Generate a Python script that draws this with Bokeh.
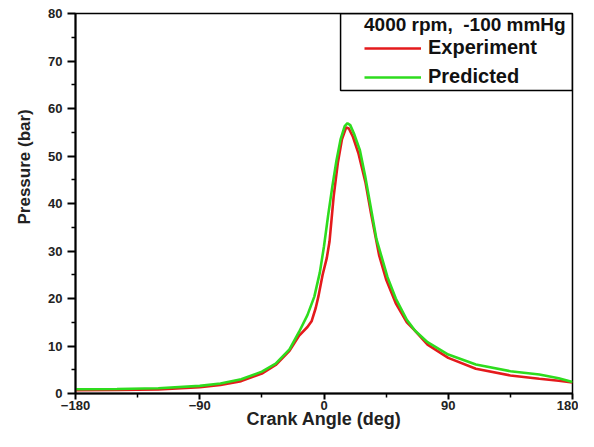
from bokeh.plotting import figure
from bokeh.models import FixedTicker, Legend, LegendItem, BoxAnnotation, Title, Range1d
from bokeh.embed import file_html
from bokeh.resources import INLINE

# Experiment (red)
angle_exp = [-180, -150, -120, -90, -75, -60, -45, -35, -25, -18, -12, -9, -6, -4, -1, 2, 4, 7, 10, 13,
             16, 18, 21, 25, 30, 34, 40, 45, 52, 60, 65, 75, 90, 110, 135, 156, 170, 180]
p_exp = [0.7, 0.75, 0.85, 1.3, 1.8, 2.6, 4.2, 6.0, 9.0, 12.2, 14.0, 15.2, 18.0, 20.5, 25.0, 28.5, 32.0,
         41.5, 48.5, 53.5, 56.0, 55.8, 54.0, 50.5, 44.5, 38.0, 29.0, 24.0, 19.0, 15.0, 13.5, 10.3, 7.5,
         5.2, 3.8, 3.1, 2.7, 2.3]

# Predicted (green)
angle_pred = [-180, -150, -120, -90, -75, -60, -45, -35, -25, -18, -12, -7, -3, 0, 3, 6, 9, 12, 15, 17,
              19, 22, 26, 30, 34, 38, 42, 46, 52, 60, 66, 75, 90, 110, 135, 156, 170, 180]
p_pred = [0.9, 0.95, 1.1, 1.6, 2.1, 3.0, 4.6, 6.3, 9.3, 13.0, 16.5, 20.4, 25.5, 31.0, 37.5, 43.5, 49.0,
          53.5, 56.3, 56.9, 56.5, 54.5, 51.2, 45.5, 39.0, 32.5, 28.5, 24.5, 20.0, 15.5, 13.2, 10.8, 8.2,
          6.1, 4.7, 4.0, 3.2, 2.4]

x_ticks = [-180, -90, 0, 90, 180]
x_minor = [-135, -45, 45, 135]
y_ticks = [0, 10, 20, 30, 40, 50, 60, 70, 80]
y_minor = [5, 15, 25, 35, 45, 55, 65, 75]

FONT = "Liberation Sans"

p = figure(width=578, height=431, output_backend="svg", toolbar_location=None,
           x_range=Range1d(-180, 180), y_range=Range1d(0, 80),
           min_border_left=73, min_border_right=6, min_border_top=13, min_border_bottom=33)

p.xgrid.visible = False
p.ygrid.visible = False
p.outline_line_color = "black"
p.outline_line_width = 1.5
p.outline_line_alpha = 1

r1 = p.line(angle_exp, p_exp, line_color="#e41a1c", line_width=2.6)
r2 = p.line(angle_pred, p_pred, line_color="#2edc1e", line_width=2.6)

for ax in (p.xaxis[0], p.yaxis[0]):
    ax.axis_line_width = 2
    ax.major_tick_line_width = 2
    ax.minor_tick_line_width = 1.5
    ax.major_tick_in = 0
    ax.minor_tick_in = 0
    ax.major_label_text_font = FONT
    ax.major_label_text_font_style = "bold"
    ax.major_label_text_font_size = "13px"
    ax.major_label_text_color = "#222222"

p.xaxis.ticker = FixedTicker(ticks=x_ticks, minor_ticks=x_minor)
p.yaxis.ticker = FixedTicker(ticks=y_ticks, minor_ticks=y_minor)
p.xaxis.major_tick_out = 6
p.xaxis.minor_tick_out = 4
p.yaxis.major_tick_out = 8
p.yaxis.minor_tick_out = 4
p.xaxis.major_label_standoff = 1
p.yaxis.major_label_standoff = 5

p.xaxis.axis_label = "Crank Angle (deg)"
p.xaxis.axis_label_text_font = FONT
p.xaxis.axis_label_text_font_style = "bold"
p.xaxis.axis_label_text_font_size = "18px"
p.xaxis.axis_label_standoff = -4
p.xaxis.axis_label_text_color = "#222222"

ytitle = Title(text="Pressure (bar)", align="left", offset=169, standoff=24,
               text_font=FONT, text_font_style="bold", text_font_size="17px",
               text_color="#222222")
p.add_layout(ytitle, "left")

box = BoxAnnotation(left=12, right=180, top=80, bottom=63.8, fill_alpha=0,
                    line_color="black", line_alpha=1, line_width=1.5)
p.add_layout(box)

legend = Legend(items=[LegendItem(label="Experiment", renderers=[r1]),
                       LegendItem(label="Predicted", renderers=[r2])],
                title="4000 rpm,  -100 mmHg", location=(289, 305),
                border_line_color=None, background_fill_alpha=0,
                padding=5, margin=0, spacing=6, label_height=20, glyph_height=20,
                glyph_width=57, label_standoff=7, title_standoff=-2,
                title_text_font=FONT, title_text_font_style="bold", title_text_font_size="19px",
                label_text_font=FONT, label_text_font_style="bold", label_text_font_size="20px",
                title_text_color="#111111", label_text_color="#111111")
p.add_layout(legend)

open("out.html", "w").write(file_html(p, INLINE))
